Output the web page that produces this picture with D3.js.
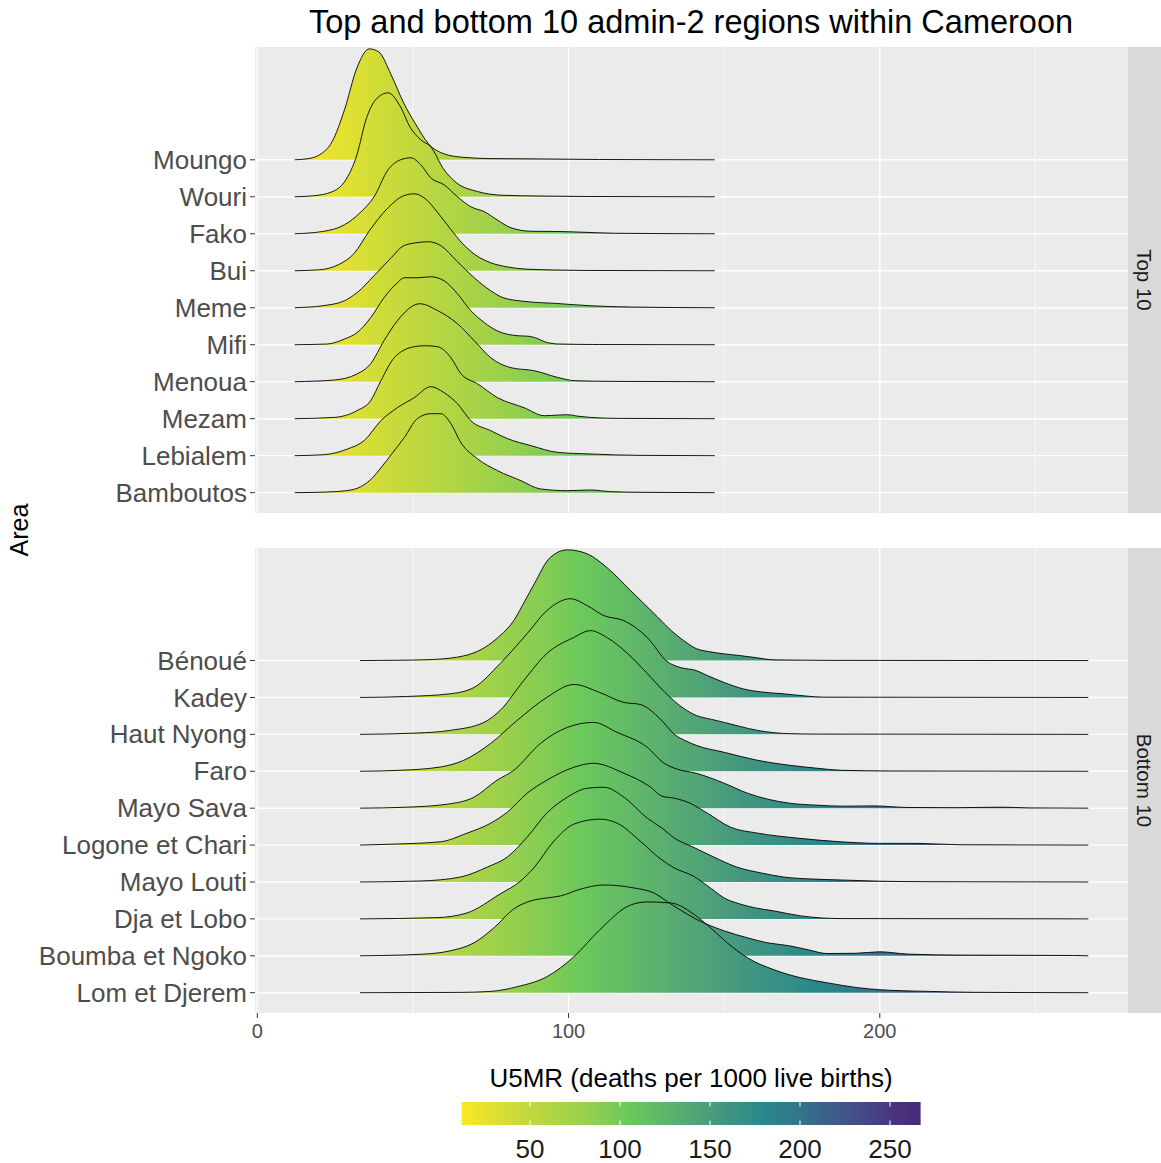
<!DOCTYPE html>
<html>
<head>
<meta charset="utf-8">
<script src="https://cdn.jsdelivr.net/npm/d3@7"></script>
<style>
  body { margin: 0; background: #fff; }
  text { font-family: "Liberation Sans", Arial, sans-serif; }
</style>
</head>
<body>
<div class="chart"></div>
<script>
"use strict";

// region names, top row first
const topNames = ["Moungo", "Wouri", "Fako", "Bui", "Meme", "Mifi", "Menoua", "Mezam", "Lebialem", "Bamboutos"];
const bottomNames = ["Bénoué", "Kadey", "Haut Nyong", "Faro", "Mayo Sava", "Logone et Chari", "Mayo Louti", "Dja et Lobo", "Boumba et Ngoko", "Lom et Djerem"];

// ridge outlines: [U5MR, ridge height]
const moungo = [[12,0],[16,1],[20,5],[24,18],[28,50],[32,92],[36,111],[39,108],[43,85],[47,57],[51,35],[55,16],[60,6],[66,2.5],[75,1.2],[90,0.9],[110,0.3],[147,0]];
const wouri = [[12,0],[18,1],[24,5],[28,15],[32,42],[35,78],[38,97],[42,104],[46,90],[49,70],[52.5,57],[55.7,50],[60,27],[64,14],[70.7,5.3],[79,1.5],[90,0.8],[105,0.3],[147,0]];
const fako = [[12,0],[21,2.3],[28,9],[33,21],[37.5,37],[42,64],[46,74],[49.3,76],[52.5,69],[55.7,56],[60,49],[64.3,37],[68.6,27],[73,22],[77,14],[81.5,6],[88,2.5],[96.5,2.3],[105,1.5],[115,0.5],[147,0]];
const bui = [[12,0],[20,1],[26,6],[31,17],[36,40],[42,63],[47,75],[50.4,77],[54,72],[58,58],[62,42],[66,27],[70,16],[75,8],[80,4],[86,1.7],[95,0.8],[105,0.3],[147,0]];
const meme = [[12,0],[21,2],[28,7],[32,15],[37.5,32],[43,50],[47,62],[51,65],[55,66],[59,62],[64,47],[69.7,30],[75,17],[79,10],[86,6.3],[96,4.3],[107,2],[120,0.7],[147,0]];
const mifi = [[12,0],[22.5,0.7],[28,5.7],[32,12],[36.4,27],[40.7,47],[45,62],[47.2,67],[51.4,67],[55.7,68],[60,64],[64.3,51],[68.6,34],[73,22],[77,14],[83.6,9],[87,8.5],[89,7.3],[93,2.3],[97,0.7],[110,0.2],[147,0]];
const menoua = [[12,0],[24.7,1.7],[32,7.7],[36.4,18],[40.7,41],[45,61],[52.2,78],[58,71],[64.3,58],[69.7,41],[75,24],[81.5,14],[89,11],[96.5,4.3],[102,1],[115,0.3],[147,0]];
const mezam = [[12,0],[24.7,1.3],[32,8],[36.4,18],[39.7,38],[44,61],[50.4,72],[54,73],[57.9,72],[62.2,61],[65.4,45],[70.7,35],[77.2,21],[85.7,11],[92.2,3],[96,3.5],[99.7,4],[103,2.5],[107,1.3],[116,0.3],[147,0]];
const lebialem = [[12,0],[21.4,1],[29,6.7],[34.3,15],[39.7,35],[45,48],[50.4,58],[55.7,69],[60,63],[64.3,52],[68.6,35],[75,25],[80.4,17],[88,10],[96.5,3.3],[107,1.7],[123,0.3],[147,0]];
const bamboutos = [[12,0],[22,0.6],[28,1.8],[32.2,4.5],[36.4,13],[40,26],[43,38],[47.2,55],[51.4,74],[55.7,79],[59,79],[62.2,69],[65.4,50],[70.7,34],[77.2,22],[84.7,12],[91,3.7],[99.7,2],[107,2.7],[113.6,1],[125,0.3],[147,0]];

const benoue = [[33,0],[45,0.3],[54,0.8],[64,3.3],[73,13],[78,25],[82.4,40],[86,60],[89,77],[94,103],[99.6,111],[106,107],[112.4,93],[120,70],[128.5,44],[133,30],[137,20],[141,12],[145,9],[150,6.7],[155,5],[160,3],[166,0.7],[175,0.4],[185,0.2],[267,0]];
const kadey = [[33,0],[48,1],[62,3.7],[69.6,10],[78,34],[86.7,64],[93,87],[100.6,99],[106,92],[111.4,82],[117.8,77],[125.3,60],[131.7,36],[136,30],[141,27],[144.6,22],[150,15],[156,8.7],[162,5.5],[169,3.7],[176,1.5],[182,0.3],[267,0]];
const hautNyong = [[33,0],[51,1.3],[62,4],[72.8,12],[78,24],[85.6,54],[93,81],[101.6,97],[107,104],[112.4,97],[119,81],[125.3,61],[131,42],[137,26],[141,19],[146,15],[150,12],[155,8],[160.7,4],[171,0.7],[180,0.3],[267,0]];
const faro = [[33,0],[46,1],[58.8,4.3],[66.3,11],[75,28],[83.5,51],[93,74],[101.7,87],[110,79],[117.8,69],[123,67],[129.6,52],[134,37],[138,30],[141,26],[150,19],[160.7,11],[171,6],[180,3],[187.5,1],[204,0.3],[267,0]];
const mayoSava = [[33,0],[48,1],[61,4],[69.6,11],[77,28],[82.4,38],[91,65],[99.6,81],[108,86],[115.6,76],[125.3,61],[130.7,45],[135,39],[141,35],[150,25],[157.5,15],[164,9],[171,5],[180,3],[188,2],[198,2.3],[209,0.7],[225,0.5],[239,1],[248,0.3],[267,0]];
const logone = [[33,0],[44,1],[58.8,3.3],[67.4,12],[75,22],[80.3,33],[86.7,52],[93,65],[101.7,78],[108,82],[117.8,72],[126.4,58],[130,49],[134,47],[139,42],[144.6,32],[152,18],[160.7,12],[173.5,7],[187.5,3.3],[200,1.7],[212,1.7],[226,0.3],[267,0]];
const mayoLouti = [[33,0],[52.4,1],[65.3,5],[73.9,15],[80.3,25],[86.7,45],[93,69],[99.6,85],[106,94],[111.4,95],[117.8,85],[125.3,64],[130,54],[134,44],[140,35],[146.7,25],[154,15],[162,9],[169,5],[178,3],[187.5,2],[200,0.8],[214,0.3],[267,0]];
const djaLobo = [[33,0],[57.8,1.3],[67.4,6],[78,25],[84.6,38],[88.8,51],[95.3,78],[101.7,95],[110,100],[115.6,96],[123,78],[129.6,60],[134,51],[140,43],[146,30],[150,21],[155,15],[160,11],[166,8],[174.6,3],[187.5,0.3],[267,0]];
const boumba = [[33,0],[40,0.3],[53.5,1.7],[62,5],[69.6,13],[76,28],[82.4,47],[87.8,55],[93,58],[97.4,60],[104,67],[111.4,71],[121,68],[127.4,63],[132.8,52],[143.4,33],[150,25],[157.5,18],[164,13],[171,10],[177,6],[183,2.3],[192,2.5],[200,4],[209,1.7],[225,0.7],[245,0.5],[262,0.3],[267,0]];
const lom = [[33,0],[65,0.3],[75,1.3],[83.5,6],[93,16],[101.7,36],[110,63],[120,88],[125.3,91],[132.8,90],[141.4,76],[146,64],[151,50],[157.5,35],[166,23],[174.6,15],[183,10],[193,5],[200,3],[216,1.3],[230,0.4],[267,0]];

const topRidges = [moungo, wouri, fako, bui, meme, mifi, menoua, mezam, lebialem, bamboutos];
const bottomRidges = [benoue, kadey, hautNyong, faro, mayoSava, logone, mayoLouti, djaLobo, boumba, lom];

const xTicks = [0, 100, 200];
const xMinor = [50, 150, 250];
const legendTicks = [50, 100, 150, 200, 250];

// fill colour stops
const colourValues = [12, 44, 76, 104, 134, 160, 181, 200, 213, 232, 254, 267];
const colourHex = ["#fbe723", "#c8da3a", "#9fd14a", "#6cc95b", "#58ab71", "#3e9483", "#28868b", "#33748c", "#3c628a", "#444d86", "#48337e", "#48287a"];
const fillLimits = [12, 267];

const width = 1161;
const height = 1163;

const svg = d3
  .select(".chart")
  .append("svg")
  .attr("width", width)
  .attr("height", height);

const x = d3.scaleLinear().domain([-0.75, 279.75]).range([255, 1128]);
const rowStep = 37; // ridge height that fills one row
const colour = d3.scaleLinear().domain(colourValues).range(colourHex).interpolate(d3.interpolateLab).clamp(true);

// gradients
const defs = svg.append("defs");
const stopVals = d3.range(fillLimits[0], fillLimits[1] + 0.01, 3);

function addGradient(id, units, x1, x2) {
  const grad = defs
    .append("linearGradient")
    .attr("id", id)
    .attr("gradientUnits", units)
    .attr("x1", x1)
    .attr("x2", x2)
    .attr("y1", 0)
    .attr("y2", 0);
  grad
    .selectAll("stop")
    .data(stopVals)
    .join("stop")
    .attr("offset", (d) => (d - fillLimits[0]) / (fillLimits[1] - fillLimits[0]))
    .attr("stop-color", (d) => colour(d));
}
addGradient("ridgeFill", "userSpaceOnUse", x(fillLimits[0]), x(fillLimits[1]));
addGradient("barFill", "objectBoundingBox", 0, 1);

const panels = [
  { names: topNames, ridges: topRidges, top: 47, bottom: 513, strip: "Top 10" },
  { names: bottomNames, ridges: bottomRidges, top: 548, bottom: 1013, strip: "Bottom 10" },
];

panels.forEach((p) => {
  const y = d3.scaleLinear().domain([0.45, 13.05]).range([p.bottom, p.top]);
  const n = p.names.length;
  const rowOf = (i) => n - i;

  const g = svg.append("g");

  g.append("rect")
    .attr("x", x.range()[0])
    .attr("y", p.top)
    .attr("width", x.range()[1] - x.range()[0])
    .attr("height", p.bottom - p.top)
    .attr("fill", "#ebebeb");

  // grid
  g.selectAll(".minor")
    .data(xMinor)
    .join("line")
    .attr("x1", (d) => x(d))
    .attr("x2", (d) => x(d))
    .attr("y1", p.top)
    .attr("y2", p.bottom)
    .attr("stroke", "white")
    .attr("stroke-width", 0.7);

  g.selectAll(".major")
    .data(xTicks)
    .join("line")
    .attr("x1", (d) => x(d))
    .attr("x2", (d) => x(d))
    .attr("y1", p.top)
    .attr("y2", p.bottom)
    .attr("stroke", "white")
    .attr("stroke-width", 1.4);

  g.selectAll(".hgrid")
    .data(p.names)
    .join("line")
    .attr("x1", x.range()[0])
    .attr("x2", x.range()[1])
    .attr("y1", (d, i) => y(rowOf(i)))
    .attr("y2", (d, i) => y(rowOf(i)))
    .attr("stroke", "white")
    .attr("stroke-width", 1.4);

  // ridges, top row drawn first so lower rows sit in front
  const area = (row) =>
    d3
      .area()
      .curve(d3.curveMonotoneX)
      .x((d) => x(d[0]))
      .y0(y(row))
      .y1((d) => y(row + d[1] / rowStep));

  const line = (row) =>
    d3
      .line()
      .curve(d3.curveMonotoneX)
      .x((d) => x(d[0]))
      .y((d) => y(row + d[1] / rowStep));

  p.ridges.forEach((r, i) => {
    g.append("path")
      .attr("d", area(rowOf(i))(r))
      .attr("fill", "url(#ridgeFill)");
  });
  p.ridges.forEach((r, i) => {
    g.append("path")
      .attr("d", line(rowOf(i))(r))
      .attr("fill", "none")
      .attr("stroke", "black")
      .attr("stroke-width", 0.9)
      .attr("stroke-linejoin", "round");
  });

  // y axis
  g.selectAll(".ytick")
    .data(p.names)
    .join("line")
    .attr("x1", x.range()[0] - 5)
    .attr("x2", x.range()[0])
    .attr("y1", (d, i) => y(rowOf(i)))
    .attr("y2", (d, i) => y(rowOf(i)))
    .attr("stroke", "#333333")
    .attr("stroke-width", 1);

  g.selectAll(".ylab")
    .data(p.names)
    .join("text")
    .attr("x", x.range()[0] - 8)
    .attr("y", (d, i) => y(rowOf(i)))
    .attr("dy", "0.35em")
    .attr("text-anchor", "end")
    .attr("font-size", 26)
    .attr("fill", "#4d4d4d")
    .text((d) => d);

  // strip
  g.append("rect")
    .attr("x", x.range()[1])
    .attr("y", p.top)
    .attr("width", 33)
    .attr("height", p.bottom - p.top)
    .attr("fill", "#d9d9d9");

  g.append("text")
    .attr("transform", `translate(${x.range()[1] + 16.5},${(p.top + p.bottom) / 2}) rotate(90)`)
    .attr("dy", "0.35em")
    .attr("text-anchor", "middle")
    .attr("font-size", 20.5)
    .attr("fill", "#1a1a1a")
    .text(p.strip);
});

// x axis under the bottom panel
const axisY = panels[1].bottom;
svg
  .selectAll(".xtick")
  .data(xTicks)
  .join("line")
  .attr("x1", (d) => x(d))
  .attr("x2", (d) => x(d))
  .attr("y1", axisY)
  .attr("y2", axisY + 5)
  .attr("stroke", "#333333");

svg
  .selectAll(".xlab")
  .data(xTicks)
  .join("text")
  .attr("x", (d) => x(d))
  .attr("y", axisY + 25)
  .attr("text-anchor", "middle")
  .attr("font-size", 20)
  .attr("fill", "#4d4d4d")
  .text((d) => d);

// titles
svg
  .append("text")
  .attr("x", 691)
  .attr("y", 33)
  .attr("text-anchor", "middle")
  .attr("font-size", 32.5)
  .attr("fill", "black")
  .text("Top and bottom 10 admin-2 regions within Cameroon");

svg
  .append("text")
  .attr("transform", "translate(28,530) rotate(-90)")
  .attr("text-anchor", "middle")
  .attr("font-size", 25)
  .attr("fill", "black")
  .text("Area");

// colour bar legend
const legX = d3.scaleLinear().domain([50, 250]).range([530, 890]);
const barTop = 1102;
const barH = 23;

svg
  .append("text")
  .attr("x", 691)
  .attr("y", 1087)
  .attr("text-anchor", "middle")
  .attr("font-size", 26)
  .attr("fill", "black")
  .text("U5MR (deaths per 1000 live births)");

svg
  .append("rect")
  .attr("x", legX(fillLimits[0]))
  .attr("y", barTop)
  .attr("width", legX(fillLimits[1]) - legX(fillLimits[0]))
  .attr("height", barH)
  .attr("fill", "url(#barFill)");

const legTick = svg.append("g").attr("stroke", "white").attr("stroke-width", 1);
legTick
  .selectAll(".t1")
  .data(legendTicks)
  .join("line")
  .attr("x1", (d) => legX(d))
  .attr("x2", (d) => legX(d))
  .attr("y1", barTop)
  .attr("y2", barTop + 4.5);
legTick
  .selectAll(".t2")
  .data(legendTicks)
  .join("line")
  .attr("x1", (d) => legX(d))
  .attr("x2", (d) => legX(d))
  .attr("y1", barTop + barH - 4.5)
  .attr("y2", barTop + barH);

svg
  .selectAll(".leglab")
  .data(legendTicks)
  .join("text")
  .attr("x", (d) => legX(d))
  .attr("y", 1158)
  .attr("text-anchor", "middle")
  .attr("font-size", 26)
  .attr("fill", "#1a1a1a")
  .text((d) => d);
</script>
</body>
</html>
